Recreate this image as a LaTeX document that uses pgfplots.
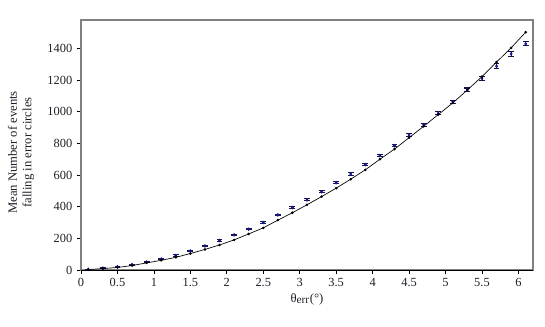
\documentclass[border=0pt]{standalone}
\usepackage{fontspec}
\setmainfont{Liberation Serif}
\usepackage{pgfplots}
\pgfplotsset{compat=1.18}
\definecolor{cData}{RGB}{20,20,150}
\definecolor{cErr}{RGB}{20,20,70}
\definecolor{cFrame}{RGB}{128,128,128}
\definecolor{cText}{RGB}{30,30,40}

\begin{document}
\begin{tikzpicture}
% page = 545 x 327 px at 0.75pt per px; axis box 452 x 250 px
\useasboundingbox (-60.75pt,-42.75pt) rectangle (348pt,202.5pt);
\begin{axis}[
  scale only axis,
  width=339pt, height=187.5pt,
  xmin=0, xmax=6.2, ymin=0, ymax=1580,
  xtick={0,0.5,...,6}, ytick={0,200,...,1400},
  xticklabels={0,0.5,1,1.5,2,2.5,3,3.5,4,4.5,5,5.5,6},
  tick align=outside, tick pos=left,
  major tick length=3pt,
  every tick/.style={black, line width=0.5pt},
  axis line style={cFrame, line width=0.8pt},
  tick label style={font=\fontsize{9.3}{10}\selectfont, text=cText},
  /pgf/number format/assume math mode=true,
  scaled y ticks=false,
  yticklabel style={/pgf/number format/set thousands separator={}},
  xlabel={θ\textsubscript{\fontsize{8.5}{9}\selectfont err}(°)},
  label style={font=\fontsize{9.5}{11}\selectfont, text=cText},
  xlabel style={yshift=2pt},
  clip=false,
]
% black x axis line over the grey frame
\draw[black, line width=0.7pt] (rel axis cs:0,0) -- (rel axis cs:1,0);
% two-line y label
\node[rotate=90, align=center, font=\fontsize{9.5}{11}\selectfont, text=cText]
  at ([xshift=-45pt]rel axis cs:0,0.47) {Mean Number of events\\falling in error circles};

% measured mean numbers with error bars
\addplot[only marks, mark=diamond*, mark size=1.1pt, cData,
  error bars/.cd, y dir=both, y explicit,
  error mark=|,
  error bar style={cErr, line width=0.6pt},
  error mark options={cErr, mark size=2.2pt, line width=0.8pt}]
coordinates {
  (0.1,4)    +- (0,2)
  (0.3,12)   +- (0,2)
  (0.5,21)   +- (0,3)
  (0.7,34)   +- (0,3)
  (0.9,50)   +- (0,3)
  (1.1,69)   +- (0,3)
  (1.3,92)   +- (0,4)
  (1.5,120)  +- (0,4)
  (1.7,152)  +- (0,4)
  (1.9,186)  +- (0,4)
  (2.1,222)  +- (0,5)
  (2.3,258)  +- (0,5)
  (2.5,300)  +- (0,5)
  (2.7,348)  +- (0,5)
  (2.9,394)  +- (0,6)
  (3.1,443)  +- (0,6)
  (3.3,494)  +- (0,6)
  (3.5,552)  +- (0,6)
  (3.7,607)  +- (0,7)
  (3.9,666)  +- (0,7)
  (4.1,723)  +- (0,7)
  (4.3,786)  +- (0,8)
  (4.5,854)  +- (0,9)
  (4.7,918)  +- (0,9)
  (4.9,990)  +- (0,9)
  (5.1,1064) +- (0,10)
  (5.3,1140) +- (0,10)
  (5.5,1212) +- (0,13)
  (5.7,1288) +- (0,15)
  (5.9,1366) +- (0,14)
  (6.1,1429) +- (0,13)
};

% expected curve
\addplot[black, line width=0.5pt, mark=*, mark size=0.7pt] coordinates {
  (0.1,3) (0.3,9) (0.5,16) (0.7,28) (0.9,45) (1.1,61) (1.3,80) (1.5,104)
  (1.7,130) (1.9,158) (2.1,190) (2.3,228) (2.5,266) (2.7,315) (2.9,362)
  (3.1,412) (3.3,464) (3.5,517) (3.7,574) (3.9,633) (4.1,700) (4.3,764)
  (4.5,836) (4.7,908) (4.9,982) (5.1,1056) (5.3,1138) (5.5,1222)
  (5.7,1314) (5.9,1404) (6.1,1503)
};
\end{axis}
\end{tikzpicture}
\end{document}
